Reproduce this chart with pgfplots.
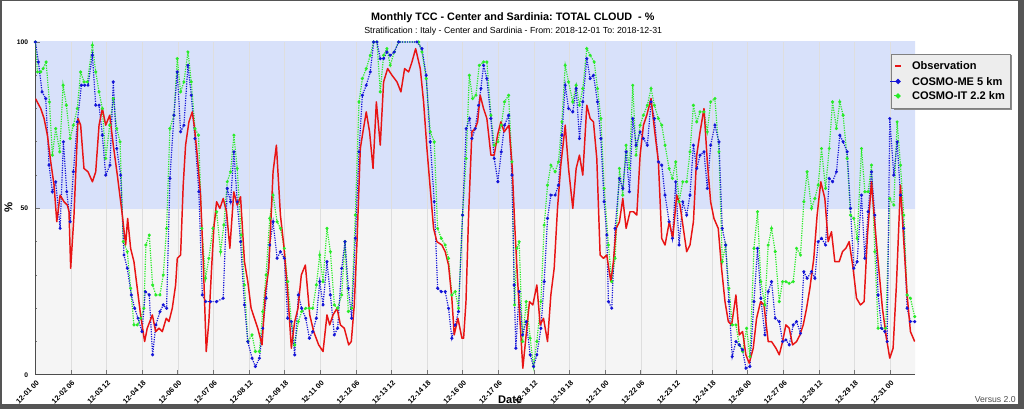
\documentclass[border=0pt]{standalone}
\usepackage{fontspec}
\setmainfont{Liberation Sans}
\usepackage{pgfplots}
\pgfplotsset{compat=1.18}
\frenchspacing

\definecolor{bgblue}{RGB}{216,225,250}
\definecolor{bggray}{RGB}{245,245,245}
\definecolor{obsred}{RGB}{232,20,20}
\definecolor{meblue}{RGB}{20,20,215}
\definecolor{itgreen}{RGB}{40,235,40}
\definecolor{framegray}{RGB}{85,85,85}
\pgfdeclareverticalshading{twotone}{100bp}{color(0bp)=(bggray); color(49.99bp)=(bggray); color(50bp)=(bgblue); color(100bp)=(bgblue)}

\pgfplotstableread{
h v
0 83
4.5 80
7.3 77
10.1 72
12.9 64
15.7 57
18 46
20.8 54
24.1 52
26.9 51
28.3 49
29.7 32
32.5 48
33.9 60
35.9 77
38.1 75
40.9 62
44.3 61
48 58
50.8 61
53.6 75
56.4 80
59.2 75
62.6 78
65.6 69
69 60
73.2 48
76 39
77.7 47
80.2 38
83 34
85.8 26
88.6 18
92 10
94.2 14
98.5 18
101.3 13
104.1 14
106.9 13
110.2 17
112.5 16
115.3 20
118.1 27
119.5 35
122.3 36
124.5 57
126.5 69
129.3 76
132.1 79
134.1 74
136.3 66
139.1 54
141.4 34
143.9 7
146.1 16
148.4 32
150.3 44
152.6 52
155.4 50
158.2 53
161 49
163.8 38
167.1 55
170 51
172.8 53.5
176.1 34
178.9 28
181.7 20
184.5 17
187.3 14
190.9 9
193.8 25
196.6 32
200.2 61
203 69
206.4 48
209.2 39
212.5 25
215.6 8
218.4 16
221.2 20
224 30
227.4 33
231.1 18
234.4 13
238.6 9
242.3 7
245.6 18
247.9 15
250.7 18
254.1 20
256.9 15
260.2 14
263.9 9
266.1 10
268.6 21
270.9 40
273.7 68
275.9 73
278.7 79
281.5 73
284.4 62
287.2 82
290.5 69
293.3 88
296.7 92
300.4 90
304.6 88
307.9 85
311 92
314.4 91
317.2 94
320.3 98
324.2 92
327 82
329.8 68
332.6 56
335.4 44
338.2 40
342.4 39
345.2 37
348 33
350.8 23
352.8 12
355.9 17
359.3 11
360.7 11
362.7 22
364.9 48
367.7 73
370.5 74
372.5 76
374.7 84
377.5 80
380.3 77
383.7 66
386.5 66
389.3 72
392.1 76
394.9 73
398.9 75
401.7 62
403.9 44
406.1 29
408.4 15
410.6 2
413.4 12
416.2 22
419 21
422.4 27
425.2 15
428 17
431.4 10
434.2 24
437 32
439.8 50
442.6 63
446.3 75
449.1 62
452.7 50
455.5 62
458.3 66
461.1 60
464.5 81
467.3 77
470.1 76
472.9 65
475.7 36
478.5 35
481.3 36
484.7 28
486.9 34
489.2 44
492 46
494.8 53
497.6 44
500.9 49
503.8 49
506.6 48
509.4 66
512.2 75
515 78
518.6 83
521.4 74
524.8 64
527.6 41
530.4 39
534 46
536.9 41
540.2 54
543 51
545.8 44
548.6 37
551.4 39
554.3 46
557.1 66
559.9 73
563.2 80
566 64
568.8 52
571.6 47
575.2 44
578 32
580.9 22
583.7 16
586.5 15
590.1 24
592.9 12
595.7 13
598.5 6
601.3 3.5
604.7 8
607.5 17
610.9 22
613.7 21
617.3 10
620.1 10
623.8 8
626.6 6
629.4 10
632.2 15
635 14
637.8 9
641.2 10
644 12
646.8 15
649.6 20
652.4 26
655.7 35
658.5 48
661.6 58
665 53
667.8 40
670.6 43
673.4 34
677.1 34
679.9 37
682.7 38
685.5 40
688.8 32
691.7 23
695 21
698.1 22
700.9 42
704.3 58
707.4 44
710.4 32
713.5 20
716.9 11
719.7 5
722.5 8
725.3 27
728.7 57
731.5 40
734.3 24
737.1 13
740.7 10
}\obs

\pgfplotstableread{
h v
0 100
2.5 94
5.6 85
8.7 83
11.5 63
14.3 55
17.1 58
20.8 44
23.6 70
26.4 55
29.2 46
32 61
35.3 76
38.7 87
41.5 87
44.3 87
48 96
50.8 81
53.6 81
56.4 72
59.2 60
62.8 63
65.6 88
68.5 68
71.8 60
74.6 36
77.4 32
80.8 24
83.6 20
86.4 17
89.8 13
92.6 25
95.9 24
98.7 6
101.5 15
104.9 19
107.7 21
110.5 20
113.3 59
116.7 78
119.5 91
122.3 73
125.1 75
128.5 93
131.3 84
134.4 71
137.7 55
140.6 24
143.4 22
147.6 22
152.6 22
158.2 23
161.6 56
164.4 52
167.2 67
170 52
172.8 40
176.1 21
178.9 10
182.5 5
185.3 2.5
188.7 5
191.5 14
194.3 23
197.4 39
200.2 46
203.6 35
206.4 37
209.7 35
212.5 17
215.6 16
218.4 6
221.5 24
224.3 20
227.7 17
230.8 11
233.6 13
236.7 17
239.5 28
242.3 21
245.6 34
248.5 24
251.8 12
254.6 14
258 32
260.8 40
263.6 26
266.4 17
269.5 41
272.6 67
275.4 84
278.7 87
282.1 91
284.9 100
287.7 100
290.5 95
293.3 95
296.1 97
298.9 96
302.3 97
306 100
321.4 100
325.6 98
329.2 90
332.6 70
336 52
338.8 26
341.9 25
345.2 25
348 20
350.8 11
353.6 15
356.4 19
359.8 48
362.9 74
365.7 77
367.7 71
370.5 74
373.3 81
375.3 86
377.5 93
380.3 89
383.7 77
386.5 65
389.6 58
392.4 67
395.2 75
398.6 78
401.4 60
403.3 27
404.7 8
407.5 25
410.4 12
413.4 16
416.8 6
419.6 2.5
422.4 6
425.8 14
428.6 28
431.4 47
434.2 54
437.8 54
440.6 57
443.5 72
446.3 87
449.1 80
452.7 79
455.5 86
458.3 71
461.1 82
464.5 95
467.3 89
470.1 90
473.5 82
476.3 71
479.1 52
481.3 42
482.7 22
485.5 20
488.3 44
492 59
494.8 56
497.6 67
500.4 55
503.2 77
506 69
509.4 73
512.2 71
515.5 69
518.6 82
521.4 77
524.8 64
527.6 63
530.4 54
533.8 46
536.6 41
539.4 58
542.2 39
545.3 52
548.6 48
551.4 54
554.3 69
557.1 62
559.9 66
563.2 67
566 56
568.8 69
572.4 75
575.8 70
578.6 44
581.4 39
584.2 22
587 5.5
590.1 10
592.9 9
595.7 7.5
598.5 2
601.9 2.5
605.3 22
608.3 38
611.1 23
614.5 12
617.3 25
620.1 28
623.2 17
626.6 16
629.4 10
632.2 10.5
635 9
638.4 15
641.2 16
644.5 12.5
647.3 31
650.1 29
653.8 31
656.6 29
659.4 40
662.2 41
665.6 39
668.7 59
671.5 58
674.8 61
677.6 72
680.4 70
683.8 67
686.6 50
689.4 32
692.2 34
695.9 54
698.7 35
701.5 49
704.3 61
707.1 48
709.9 24
712.7 14
715.5 13
717.5 10
719.7 77
723.1 60
725.9 70
728.7 54
731.5 44
734.3 20
737.1 16
740.7 16
}\cosmome

\pgfplotstableread{
h v
0 100
1.7 91
4.5 91
6.5 92
9 94
11.8 82
14.3 66
17.1 74
20.5 67
23.3 87
26.1 81
29.2 71
32 75
35.3 80
38.1 91
40.9 88
43.8 88
48 99
50.8 91
53.6 85
56.4 80
59.2 65
62.6 75
65.6 83
68.5 74
71.3 70
74 40
77.4 37
80.2 26
83 15
85.8 15
88.6 17
91.4 20
93.1 39
95.9 42
98.7 27
101.5 24
104.9 24
107.7 30
110.5 44
113.3 74
116.7 78
119.5 95
122.3 85
125.1 88
128.5 97
131.3 88
134.4 74
137.4 72
140.2 44
143.3 29
146.1 35
149.5 44
152.6 49
156 37
158.7 45
161.6 58
164.4 61
167.2 72
170 62
173.3 42
176.1 27
178.9 10
182.5 12
185.3 7
188.7 7
191.5 19
194.3 30
197.4 47
200.2 54
203.6 46
206.4 44
209.7 38
212.5 28
215.6 16
218.4 9
221.5 16
224.3 19
227.7 20
230.8 20
233.6 20
236.7 27
239.5 36
242.3 28
245.6 44
248.5 37
251.8 21
254.6 20
258 24
260.8 40
263.6 19
266.4 20
269.5 48
272.6 82
275.4 89
278.7 92
282.1 96
284.9 100
287.7 100
290.5 85
293.3 96
296.1 98
298.9 93
302.3 97
306 100
322.8 100
325.6 97
329.2 89
332.6 73
336 70
338.8 44
341.9 41
345.2 39
348 35
350.8 24
353.6 25
356.4 20
359.8 48
362.9 65
365.5 90
368.3 83
371.1 84
373.9 93
377.5 94
380.3 94
383.7 78
386.5 69
389.6 70
392.4 75
395.2 82
398.6 84
401.4 64
403.6 21
405.6 38
407.5 40
410.4 10
413.4 22
416.8 11
419.6 2.5
422.4 10
425.8 22
428.6 45
431.4 57
434.2 63
437.8 61
440.6 64
443.5 76
446.3 93
449.1 88
452.7 82
455.5 87
458.3 81
461.1 86
464.5 98
467.3 96
470.7 94
473.5 86
476.3 77
479.1 56
482.7 39
485.5 28
488.3 35
492 62
494.8 54
497.6 69
500.4 62
503.2 87
506 66
509.4 75
512.2 78
515.5 81
518.6 86
521.4 81
524.8 77
527.6 75
530.4 69
533.8 62
536.6 59
539.4 64
542.2 52
545.3 58
548.6 58
551.4 67
554.3 81
557.1 76
559.9 79
563.2 79
566 73
568.8 82
572.4 83
575.8 67
578.6 34
581.4 39
584.2 26
587 15
590.1 15
592.9 9
595.7 7
599.1 14
601.9 5.5
605.3 38
608.3 49
611.1 28
614.5 21
617.3 39
620.1 44
623.2 37
626.6 22
629.4 28
632.2 28
635 27.5
638.4 28
641.2 38
644.5 36
647.3 52
650.1 61
653.8 50
656.6 53
659.4 57
662.2 68
665.6 56
668.7 68
671.5 82
674.8 74
677.6 82
680.4 78
683.8 65
686.6 48
689.4 47
692.2 41
695.9 68
698.7 55
701.5 55
704.3 63
707.1 37
709.9 14
712.7 14
716.3 14
719.7 53
723.1 51
725.9 76
728.7 63
731.5 48
734.3 24
737.1 23
740.7 17.5
}\cosmoit

\begin{document}
\begin{tikzpicture}
\begin{scope}[x=0.75pt,y=0.75pt]
\fill[white] (0,0) rectangle (1024,409);
\end{scope}

\begin{axis}[
  at={(26.25pt,25.5pt)}, anchor=south west,
  scale only axis, width=660pt, height=249.75pt,
  xmin=0, xmax=741, ymin=0, ymax=100,
  axis background/.style={shading=twotone},
  axis x line*=bottom, axis y line*=left,
  axis line style={draw=black!70, line width=0.7pt},
  xtick={0,30,...,720},
  xticklabels={12-01 00,12-02 06,12-03 12,12-04 18,12-06 00,12-07 06,12-08 12,12-09 18,12-11 00,12-12 06,12-13 12,12-14 18,12-16 00,12-17 06,12-18 12,12-19 18,12-21 00,12-22 06,12-23 12,12-24 18,12-26 00,12-27 06,12-28 12,12-29 18,12-31 00},
  ytick={0,50,100}, yticklabels={0,50,100},
  minor ytick={10,20,30,40,60,70,80,90},
  tick align=inside,
  major tick length=3.5pt, minor tick length=1.5pt,
  tick style={draw=black!55, line width=0.6pt},
  xmajorgrids, major x grid style={draw=black!13, line width=0.5pt},
  xticklabel style={rotate=45, anchor=east, font=\fontsize{5.5}{6}\selectfont\bfseries, yshift=-5pt, xshift=1pt},
  yticklabel style={font=\fontsize{5}{6}\selectfont\bfseries, xshift=-2pt},
]
\addplot[itgreen, line width=0.9pt, dash pattern=on 0.9pt off 0.9pt, mark=*, mark size=0.65pt, mark options={solid}] table[x=h, y=v] {\cosmoit};
\addplot[meblue, line width=0.9pt, dash pattern=on 0.9pt off 0.9pt, mark=*, mark size=0.65pt, mark options={solid}] table[x=h, y=v] {\cosmome};
\addplot[obsred, line width=1.1pt, line join=round] table[x=h, y=v] {\obs};
\end{axis}

\begin{scope}[x=0.75pt,y=0.75pt]
% titles and labels
\node[font=\fontsize{8.1}{10}\selectfont\bfseries] at (512.5,391.5) {Monthly TCC - Center and Sardinia: TOTAL CLOUD \ - \%};
\node[font=\fontsize{6.6}{8}\selectfont] at (513,377.5) {Stratification : Italy - Center and Sardinia - From: 2018-12-01 To: 2018-12-31};
\node[font=\fontsize{8.5}{10}\selectfont\bfseries, rotate=90] at (8,201) {\%};
\node[font=\fontsize{8.3}{10}\selectfont\bfseries] at (510,9.5) {Date};
\node[font=\fontsize{6.5}{8}\selectfont, text=black!70, anchor=east, inner sep=0pt] at (1016,9) {Versus 2.0};

% legend
\fill[black!45] (893.5,299) rectangle (1011.5,353.5);
\filldraw[fill=black!7, draw=black!50, line width=0.5pt] (891.7,300.7) rectangle (1010,355);
\draw[obsred, line width=1.2pt] (895,343) -- (901,343);
\draw[meblue, line width=0.8pt] (890,327.5) -- (898,327.5);
\fill[meblue] (898,330.3) -- (900.8,327.5) -- (898,324.7) -- (895.2,327.5) -- cycle;
\draw[itgreen, line width=0.8pt] (894,313) -- (898,313);
\fill[itgreen] (898,315.8) -- (900.8,313) -- (898,310.2) -- (895.2,313) -- cycle;
\node[font=\fontsize{8.3}{10}\selectfont\bfseries, anchor=west, inner sep=0pt] at (911.7,343) {Observation};
\node[font=\fontsize{8.3}{10}\selectfont\bfseries, anchor=west, inner sep=0pt] at (911.7,327.5) {COSMO-ME 5 km};
\node[font=\fontsize{8.3}{10}\selectfont\bfseries, anchor=west, inner sep=0pt] at (911.7,313) {COSMO-IT 2.2 km};

% window frame
\fill[framegray] (1017.5,0) rectangle (1024,409);
\fill[framegray] (0,0) rectangle (1024,5);
\fill[framegray] (0,407.5) rectangle (1024,409);
\fill[framegray] (0,0) rectangle (1.5,409);
\end{scope}
\end{tikzpicture}
\end{document}
